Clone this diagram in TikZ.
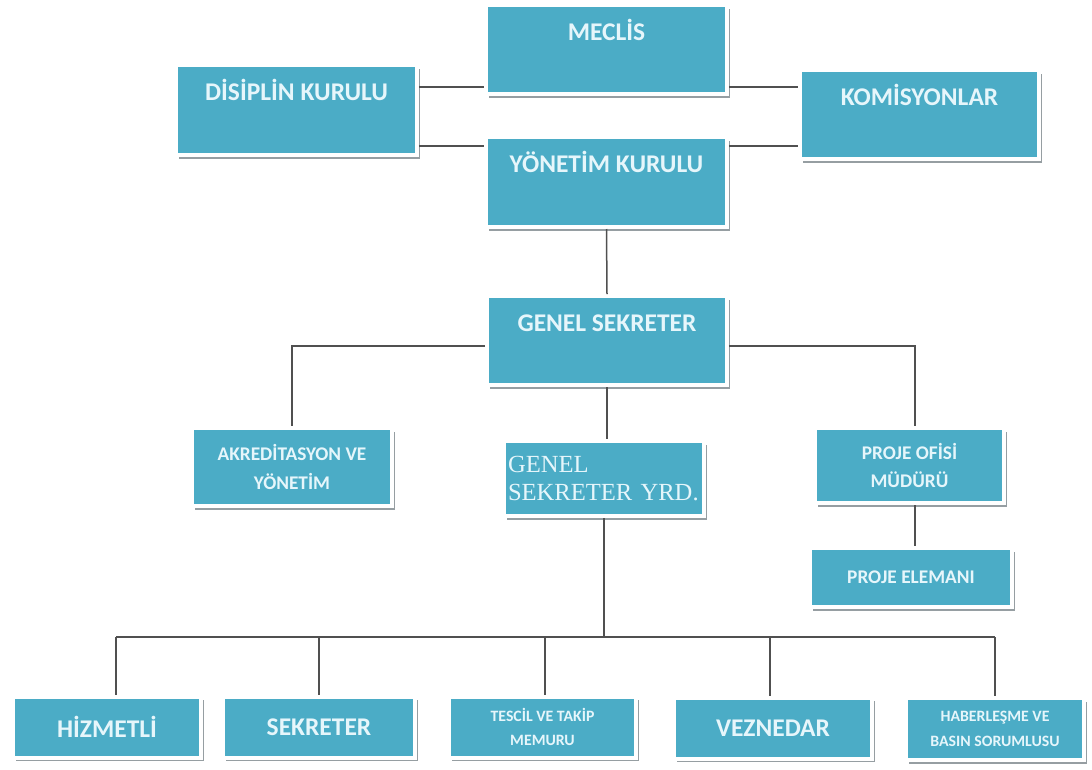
\documentclass[tikz,border=0pt]{standalone}
\usepackage{fontspec}
\setmainfont{Carlito}
\newfontfamily\yrdfont{Liberation Serif}
\usetikzlibrary{positioning, shadows}

\definecolor{boxteal}{RGB}{75,172,198}
\definecolor{boxtext}{RGB}{230,246,251}
\definecolor{boxshade}{RGB}{150,158,162}
\definecolor{linkgray}{RGB}{80,80,80}

\begin{document}
\begin{tikzpicture}[x=0.02cm, y=-0.02cm,
        unit/.style={rectangle, fill=boxteal, draw=white,
            line width=0.08cm, text=boxtext, inner sep=0.04cm,
            drop shadow={shadow xshift=0.06cm, shadow yshift=-0.07cm,
                fill=boxshade, opacity=1}},
        big/.style={font=\bfseries\fontsize{14.5}{18}\selectfont},
        mid/.style={font=\bfseries\fontsize{11}{16}\selectfont, align=center},
        small/.style={font=\bfseries\fontsize{9}{14}\selectfont, align=center},
        toptext/.style={text height=0pt, text depth=0.38cm},
        link/.style={draw=linkgray, line width=0.03cm}]

    \useasboundingbox [fill=white] (0,0) rectangle (1092,769);

    % Board
    \node (meclis) [unit, big, toptext,
        minimum width=4.82cm, minimum height=1.78cm] at (606.5,49.5) {MECLİS};
    \node (yonetim) [unit, big, toptext,
        minimum width=4.82cm, minimum height=1.8cm] at (606.5,182) {YÖNETİM KURULU};
    \node (disiplin) [unit, big, toptext,
        minimum width=4.82cm, minimum height=1.8cm] at (296.5,110) {DİSİPLİN KURULU};
    \node (komisyon) [unit, big, toptext,
        minimum width=4.78cm, minimum height=1.78cm] at (919.5,114.5) {KOMİSYONLAR};

    % Secretariat
    \node (gs) [unit, big, toptext,
        minimum width=4.8cm, minimum height=1.78cm] at (607,340.5) {GENEL SEKRETER};
    \node (akred) [unit, mid,
        minimum width=4cm, minimum height=1.56cm] at (292,467) {AKREDİTASYON VE\\YÖNETİM};
    \node (gsy) [unit, align=left, text width=3.84cm,
        font=\yrdfont\fontsize{14}{16.4}\selectfont,
        minimum width=4cm, minimum height=1.5cm] at (604,478.5) {GENEL\\SEKRETER YRD.};
    \node (pofis) [unit, mid,
        minimum width=3.78cm, minimum height=1.5cm] at (909.5,465.5) {PROJE OFİSİ\\MÜDÜRÜ};
    \node (peleman) [unit, mid,
        minimum width=4.04cm, minimum height=1.18cm] at (911,577.5) {PROJE ELEMANI};

    % Staff
    \node (hizmetli) [unit, big,
        minimum width=3.76cm, minimum height=1.22cm] at (107,727) {HİZMETLİ};
    \node (sekreter) [unit, big,
        minimum width=3.84cm, minimum height=1.22cm] at (319,727) {SEKRETER};
    \node (tescil) [unit, small,
        minimum width=3.74cm, minimum height=1.22cm] at (542.5,727) {TESCİL VE TAKİP\\MEMURU};
    \node (veznedar) [unit, big,
        minimum width=3.96cm, minimum height=1.22cm] at (773,728) {VEZNEDAR};
    \node (haber) [unit, small,
        minimum width=3.56cm, minimum height=1.24cm] at (995,729) {HABERLEŞME VE\\BASIN SORUMLUSU};

    % Links
    \draw[link] (disiplin.east |- 0,87) -- (meclis.west |- 0,87);
    \draw[link] (meclis.east |- 0,87) -- (komisyon.west |- 0,87);
    \draw[link] (disiplin.east |- 0,146) -- (yonetim.west |- 0,146);
    \draw[link] (yonetim.east |- 0,146) -- (komisyon.west |- 0,146);
    \draw[link] (yonetim.south) -- (gs.north);
    \draw[link] (gs.west |- 0,346) -| (akred.north);
    \draw[link] (gs.east |- 0,346) -| (915,0 |- pofis.north);
    \draw[link] (gs.south) -- (gs.south |- gsy.north);
    \draw[link] (915,0 |- pofis.south) -- (915,0 |- peleman.north);

    % Staff bus
    \coordinate (busL) at (116,637);
    \coordinate (busR) at (995,637);
    \draw[link] (gsy.south) -- (gsy.south |- busL);
    \draw[link] (busL) -- (busR);
    \foreach \n/\x in {hizmetli/116, sekreter/319, tescil/545, veznedar/770, haber/995}
        \draw[link] (\x,0 |- busL) -- (\x,0 |- \n.north);
\end{tikzpicture}
\end{document}
